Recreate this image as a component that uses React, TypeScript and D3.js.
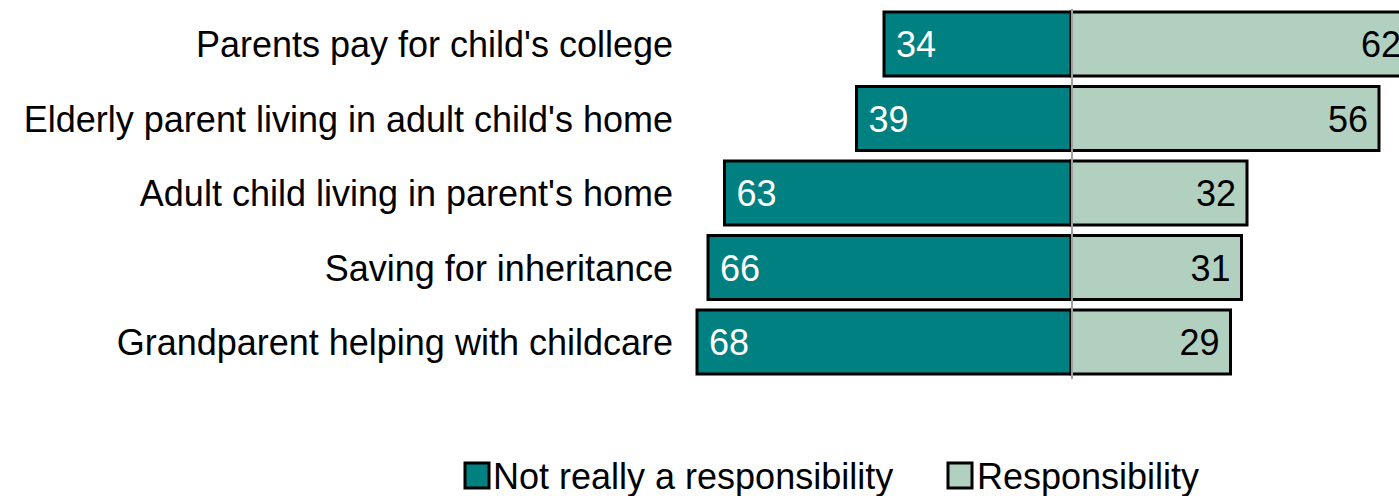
import React from "react";
import * as d3 from "d3";

const categories = [
  "Parents pay for child's college",
  "Elderly parent living in adult child's home",
  "Adult child living in parent's home",
  "Saving for inheritance",
  "Grandparent helping with childcare",
];
const notResponsibility = [34, 39, 63, 66, 68];
const responsibility = [62, 56, 32, 31, 29];
const seriesNames = ["Not really a responsibility", "Responsibility"];
const seriesColors = ["#008080", "#B2D0BF"];

const W = 1399;
const H = 496;
const FONT = "'Liberation Sans', Arial, Helvetica, sans-serif";

export default function App() {
  const x = d3.scaleLinear().domain([-100, 100]).range([521, 1621]);
  const y = d3
    .scaleBand<string>()
    .domain(categories)
    .range([6.75, 379.25])
    .paddingInner(0.141)
    .paddingOuter(0.0705);
  const bw = y.bandwidth();
  const zero = x(0);

  return (
    <svg
      width={W}
      height={H}
      style={{ position: "absolute", left: 0, top: 0, background: "#fff" }}
      fontFamily={FONT}
    >
      {categories.map((c, i) => {
        const y0 = y(c)!;
        const cy = y0 + bw / 2;
        const xl = x(-notResponsibility[i]);
        const xr = x(responsibility[i]);
        return (
          <g key={c}>
            <rect x={zero} y={y0} width={xr - zero} height={bw} fill={seriesColors[1]} stroke="#000" strokeWidth={3} />
            <rect x={xl} y={y0} width={zero - xl} height={bw} fill={seriesColors[0]} stroke="#000" strokeWidth={3} />
            <text x={673} y={cy + 13} textAnchor="end" fontSize={36} fill="#000">
              {c}
            </text>
            <text x={xl + 12} y={cy + 13} fontSize={36} fill="#fff">
              {notResponsibility[i]}
            </text>
            <text x={xr - 11} y={cy + 13} textAnchor="end" fontSize={36} fill="#000">
              {responsibility[i]}
            </text>
          </g>
        );
      })}
      <line x1={zero + 1} x2={zero + 1} y1={9} y2={379} stroke="#a0a0a0" strokeWidth={2} />
      <g>
        <rect x={465} y={463} width={24} height={25} fill={seriesColors[0]} stroke="#000" strokeWidth={3} />
        <text x={493} y={489} fontSize={36} fill="#000">{seriesNames[0]}</text>
        <rect x={948} y={463} width={24} height={25} fill={seriesColors[1]} stroke="#000" strokeWidth={3} />
        <text x={977} y={489} fontSize={36} fill="#000">{seriesNames[1]}</text>
      </g>
    </svg>
  );
}
